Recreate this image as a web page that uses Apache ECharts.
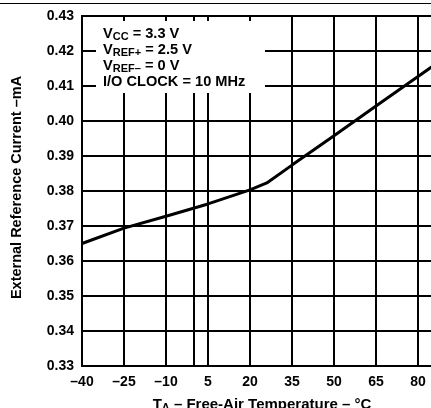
<!DOCTYPE html>
<html>
<head>
<meta charset="utf-8">
<style>html,body{margin:0;padding:0;background:#fff;}#c{width:431px;height:408px;}</style>
<script src="https://cdn.jsdelivr.net/npm/echarts@6/dist/echarts.min.js"></script>
</head>
<body>
<div id="c"></div>
<script>
var temps = [-40, -25, -10, 5, 20, 26, 35, 50, 65, 80, 95];
var current = [0.365, 0.3694, 0.3728, 0.3763, 0.3803, 0.3823, 0.3874, 0.3958, 0.4043, 0.4127, 0.4212];
var xTicks = [-40, -25, -10, 5, 20, 35, 50, 65, 80, 95];
var yTicks = [0.33, 0.34, 0.35, 0.36, 0.37, 0.38, 0.39, 0.40, 0.41, 0.42, 0.43];

var chart = echarts.init(document.getElementById('c'), null, {renderer: 'canvas'});
var F = 'Liberation Sans, Arial, sans-serif';
var pts = temps.map(function (t, i) { return [t, current[i]]; });

chart.setOption({
  animation: false,
  backgroundColor: '#fff',
  grid: {left: 82, top: 16, bottom: 42, right: -29, containLabel: false, outerBoundsMode: 'none',
         show: true, borderColor: '#000', borderWidth: 2},
  xAxis: {
    type: 'value', min: -40, max: 95, interval: 15,
    axisLine: {show: true, lineStyle: {color: '#000', width: 2}},
    axisTick: {show: false},
    splitLine: {show: true, lineStyle: {color: '#000', width: 2}},
    axisLabel: {
      color: '#000', fontFamily: F, fontWeight: 'bold', fontSize: 14, margin: 9,
      formatter: function (v) { return String(v).replace('-', '\u2013'); }
    },
    name: '{t|T}{s|A}{t| \u2013 Free-Air Temperature \u2013 \u00b0C}',
    nameLocation: 'middle', nameGap: 30,
    nameTextStyle: {
      color: '#000', fontFamily: F, fontWeight: 'bold', fontSize: 15, padding: [0, 18, 0, 0],
      rich: {
        t: {fontFamily: F, fontWeight: 'bold', fontSize: 15, color: '#000', lineHeight: 17, verticalAlign: 'middle'},
        s: {fontFamily: F, fontWeight: 'bold', fontSize: 11, color: '#000', lineHeight: 12, verticalAlign: 'bottom'}
      }
    }
  },
  yAxis: {
    type: 'value', min: 0.33, max: 0.43, interval: 0.01,
    axisLine: {show: true, lineStyle: {color: '#000', width: 2}},
    axisTick: {show: false},
    splitLine: {show: true, lineStyle: {color: '#000', width: 2}},
    axisLabel: {
      color: '#000', fontFamily: F, fontWeight: 'bold', fontSize: 14, margin: 8,
      formatter: function (v) { return v.toFixed(2); }
    },
    name: 'External Reference Current \u2013mA',
    nameLocation: 'middle', nameGap: 58,
    nameTextStyle: {color: '#000', fontFamily: F, fontWeight: 'bold', fontSize: 14.5, padding: [0, 0, 0, 7]}
  },
  graphic: [
    {type: 'line', shape: {x1: 0, y1: 3.5, x2: 431, y2: 3.5}, style: {stroke: '#000', lineWidth: 1}, z: 100},
    {type: 'rect', shape: {x: 96, y: 21, width: 169, height: 72}, style: {fill: '#fff'}, z: 50},
    {
      type: 'text', left: 103, top: 26, z: 60,
      style: {
        text: '{g|\u200b}{m|V}{s|CC}{m| = 3.3 V}\n{g|\u200b}{m|V}{s|REF+}{m| = 2.5 V}\n{g|\u200b}{m|V}{s|REF\u2013}{m| = 0 V}\n{g|\u200b}{m|I/O CLOCK = 10 MHz}',
        fill: '#000',
        rich: {
          g: {fontFamily: F, fontSize: 10, lineHeight: 16.3, verticalAlign: 'top'},
          m: {fontFamily: F, fontWeight: 'bold', fontSize: 14.6, fill: '#000', lineHeight: 12, verticalAlign: 'top'},
          s: {fontFamily: F, fontWeight: 'bold', fontSize: 11, fill: '#000', lineHeight: 9, verticalAlign: 'bottom'}
        }
      }
    }
  ],
  series: [{
    type: 'line', data: pts, showSymbol: false, symbol: 'none',
    lineStyle: {color: '#000', width: 3}, z: 10
  }]
});
</script>
</body>
</html>
